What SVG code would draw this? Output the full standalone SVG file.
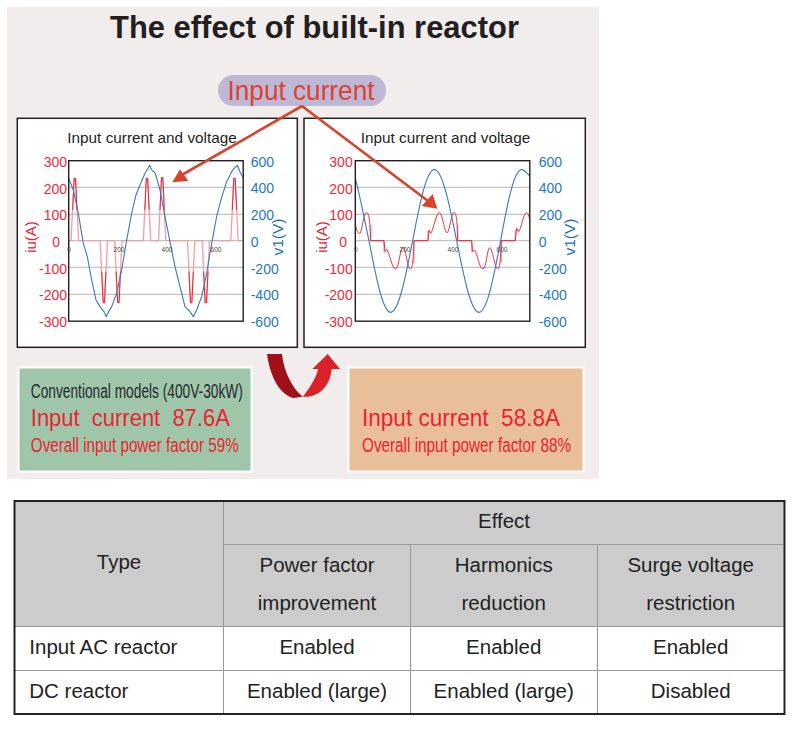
<svg xmlns="http://www.w3.org/2000/svg" width="800" height="754" viewBox="0 0 800 754">
<style>
text{font-family:"Liberation Sans",Arial,sans-serif}
.panel{fill:#fff;stroke:#231f20;stroke-width:1.5}
.plot{fill:none;stroke:#231f20;stroke-width:1.4}
.grid{stroke:#b5b5b5;stroke-width:1}
.ttl{font-size:14.5px;fill:#231f20}
.rl{font-size:14px;fill:#f0293c;text-anchor:end}
.bl{font-size:14px;fill:#1f78c4}
.ax{font-size:6.5px;fill:#444;text-anchor:middle}
.iu{font-size:15px;fill:#e8262f;text-anchor:middle}
.v1{font-size:15.5px;fill:#1f6fb8;text-anchor:middle}
.vc{fill:none;stroke:#3d7cc0;stroke-width:3.4;stroke-linejoin:round}
.pk{fill:none;stroke:#f3a0a5;stroke-width:4;stroke-linejoin:round}
.rd{fill:none;stroke:#e8141f;stroke-width:2.6;stroke-linejoin:round}
.big{font-size:24px;fill:#ec2232;white-space:pre}
.sm{font-size:20px;fill:#ec2232}
.conn{stroke:#d8432c;stroke-width:2.6;fill:none}
.head{fill:#d8432c}
.th{fill:#ccc}
.il{stroke:#999;stroke-width:1;fill:none}
.tt{font-size:20.5px;fill:#222;text-anchor:middle}
.tl{font-size:20.5px;fill:#222}
</style>
<rect width="800" height="754" fill="#fff"/>
<rect id="background" x="7" y="7" width="592" height="472" fill="#f1eded"/>
<text id="title" x="110" y="38" font-size="30.5" font-weight="700" fill="#231f20" textLength="409" lengthAdjust="spacingAndGlyphs">The effect of built-in reactor</text>

<g id="chart-left">
<rect class="panel" x="17.3" y="118.3" width="280" height="229"/>
<text class="ttl" x="67.3" y="142.7" textLength="169.5" lengthAdjust="spacingAndGlyphs">Input current and voltage</text>
<path class="grid" d="M68.7 187.3H243M68.7 214.3H243M68.7 240.7H243M68.7 267.3H243M68.7 294.3H243"/>
<g transform="translate(10 110) scale(.3333)">
<path class="pk" d="M176 392H183L192.500 205H196.500L206 392H270.500L279.500 578H283.500L292.500 392H314L323 578H327L336 392H400L409 205H413L422 392H445.500L454.500 203H458.500L467.500 392H532.500L541.500 578H545.500L554.500 392H576.500L585.500 578H589.500L598.500 392H662.500L671.500 205H675.500L684.500 392H696"/>
<path class="rd" d="M188 300L192.500 205H196.500L201 300M275 485L279.500 578H283.500L288 485M318.500 485L323 578H327L331.500 485M404.500 300L409 205H413L417.500 300M450 300L454.500 203H458.500L463 300M537 485L541.500 578H545.500L550 485M581 485L585.500 578H589.500L594 485M667 300L671.500 205H675.500L680 300"/>
<path class="vc" d="M176 205L190 240L205 310L220 400L232 440L245 510L258 570L272 593L282 605L289 620L296 605L305 590L320 550L335 480L350 390L365 310L378 255L390 225L405 190L414 175L419 166L424 178L436 190L450 240L465 320L480 395L495 470L510 530L525 590L540 605L550 620L560 600L575 560L590 490L605 400L620 320L635 262L650 215L665 185L675 172L682 166L690 185L700 205"/>
</g>
<rect class="plot" x="68.7" y="160.7" width="174.5" height="160.5"/>
<text class="ax" x="69" y="252">0</text><text class="ax" x="119" y="252">200</text><text class="ax" x="167" y="252">400</text><text class="ax" x="216" y="252">600</text>
<text class="rl" x="67" y="166.7">300</text><text class="rl" x="67" y="193.5">200</text><text class="rl" x="67" y="220">100</text><text class="rl" x="60" y="247">0</text><text class="rl" x="67" y="273.5">-100</text><text class="rl" x="67" y="300">-200</text><text class="rl" x="67" y="326.7">-300</text>
<text class="bl" x="250.7" y="167">600</text><text class="bl" x="250.7" y="193">400</text><text class="bl" x="250.7" y="220">200</text><text class="bl" x="250.7" y="247">0</text><text class="bl" x="250.7" y="273.5">-200</text><text class="bl" x="250.7" y="300">-400</text><text class="bl" x="250.7" y="326.7">-600</text>
<text class="iu" transform="translate(36 237) rotate(-90)">iu(A)</text>
<text class="v1" transform="translate(283 237) rotate(-90)">v1(V)</text>
</g>

<g id="chart-right">
<rect class="panel" x="304" y="118.3" width="281.3" height="229"/>
<text class="ttl" x="360.7" y="142.7" textLength="169.5" lengthAdjust="spacingAndGlyphs">Input current and voltage</text>
<path class="grid" d="M355.3 187.3H529.7M355.3 214.3H529.7M355.3 240.7H529.7M355.3 267.3H529.7M355.3 294.3H529.7"/>
<g transform="translate(300 110) scale(.3333)">
<path class="pk" d="M212 392H252M342 392H384M473 392H515M604 392H646M342 392V460M473 392V345M212 392V345M384 392V362M515 392V425M604 392V460M646 392V360M252 392V425"/>
<path class="rd" d="M166 342C170 362 174 372 180 370C186 366 190 308 200 308C208 308 210 340 212 392H252L255 425L260 418C268 425 275 477 287 477C297 477 300 412 309 412C318 412 322 477 331 477C338 477 340 440 342 392H384L387 360L392 370C400 362 408 308 418 308C427 308 434 372 442 368C450 360 454 308 462 308C471 308 472 345 473 392H515L518 425L524 420C532 430 538 477 549 477C559 477 562 413 569 413C578 413 584 477 593 477C600 477 602 440 604 392H646L650 355L656 365C664 358 670 308 680 308C685 308 687 320 689 330"/>
<path class="vc" d="M166 205C178 250 192 320 207 392C228 502 248.500 607 272 607C296 607 316.500 502 338 392C359 282 379.500 179 403 179C427 179 448 282 470 392C492 502 513 607 537 607C561 607 581 502 602 392C622 282 642 179 665 179C675 179 682 190 689 198"/>
</g>
<rect class="plot" x="355.3" y="160.700" width="174.5" height="160.5"/>
<text class="ax" x="355.700" y="252">0</text><text class="ax" x="405" y="252">200</text><text class="ax" x="453" y="252">400</text><text class="ax" x="502" y="252">600</text>
<text class="rl" x="352.700" y="166.700">300</text><text class="rl" x="352.700" y="193.500">200</text><text class="rl" x="352.700" y="220">100</text><text class="rl" x="347" y="247">0</text><text class="rl" x="352.700" y="273.500">-100</text><text class="rl" x="352.700" y="300">-200</text><text class="rl" x="352.700" y="326.700">-300</text>
<text class="bl" x="538.700" y="167">600</text><text class="bl" x="538.700" y="193">400</text><text class="bl" x="538.700" y="220">200</text><text class="bl" x="538.700" y="247">0</text><text class="bl" x="538.700" y="273.500">-200</text><text class="bl" x="538.700" y="300">-400</text><text class="bl" x="538.700" y="326.700">-600</text>
<text class="iu" transform="translate(326.700 237) rotate(-90)">iu(A)</text>
<text class="v1" transform="translate(575 237) rotate(-90)">v1(V)</text>
</g>

<g id="input-current">
<rect x="218" y="75" width="168" height="31" rx="15.500" fill="#bcb8d6"/>
<text x="227.500" y="100" font-size="27.500" fill="#e0402f" textLength="147" lengthAdjust="spacingAndGlyphs">Input current</text>
</g>

<g id="connectors">
<path class="conn" d="M302 106L180 176"/>
<polygon class="head" points="172.300,182.300 188.300,181 180,169.300"/>
<path class="conn" d="M302 106L428 201"/>
<polygon class="head" points="437.300,208.700 421.700,206 432.700,194"/>
<path d="M267 354H282C284 372 292 388 302.700 396.700L293 398C278 393 270 375 267 354Z" fill="#a01018"/>
<path d="M302.700 396.700C309 389 315 380 318.300 369H312.300L327.700 354L340 369H331.700C330 387 318 398 302.700 396.700Z" fill="#dc212b"/>
</g>

<g id="box-conventional">
<rect x="18.500" y="367.500" width="233" height="104" fill="#a0c6a9" stroke="#fff" stroke-width="2"/>
<text x="30.800" y="398" font-size="20" fill="#1f2a30" textLength="212" lengthAdjust="spacingAndGlyphs">Conventional models (400V-30kW)</text>
<text class="big" x="30.800" y="425.700" textLength="199" lengthAdjust="spacingAndGlyphs">Input  current  87.6A</text>
<text class="sm" x="30.800" y="452.300" textLength="208" lengthAdjust="spacingAndGlyphs">Overall input power factor 59%</text>
</g>

<g id="box-built-in">
<rect x="348.500" y="367.500" width="235" height="104" fill="#e9bf99" stroke="#fff" stroke-width="2"/>
<text class="big" x="362" y="425.700" textLength="198" lengthAdjust="spacingAndGlyphs">Input current  58.8A</text>
<text class="sm" x="362" y="452.300" textLength="209" lengthAdjust="spacingAndGlyphs">Overall input power factor 88%</text>
</g>

<g id="table">
<rect class="th" x="14.500" y="501" width="770" height="125.500"/>
<path class="il" d="M223.500 501V714M410.500 544.500V714M597.500 544.500V714M223.500 544.500H784.500M14.500 626.500H784.500M14.500 670.500H784.500"/>
<rect x="14.500" y="501" width="770" height="213" fill="none" stroke="#222" stroke-width="2"/>
<text class="tt" x="119" y="569">Type</text>
<text class="tt" x="504" y="528">Effect</text>
<text class="tt" x="317" y="572">Power factor</text><text class="tt" x="317" y="610">improvement</text>
<text class="tt" x="503.700" y="572">Harmonics</text><text class="tt" x="503.700" y="610">reduction</text>
<text class="tt" x="690.700" y="572">Surge voltage</text><text class="tt" x="690.700" y="610">restriction</text>
<text class="tl" x="29.300" y="654">Input AC reactor</text>
<text class="tt" x="317" y="654">Enabled</text><text class="tt" x="503.700" y="654">Enabled</text><text class="tt" x="690.700" y="654">Enabled</text>
<text class="tl" x="29.300" y="697.500">DC reactor</text>
<text class="tt" x="317" y="697.500">Enabled (large)</text><text class="tt" x="503.700" y="697.500">Enabled (large)</text><text class="tt" x="690.700" y="697.500">Disabled</text>
</g>
</svg>
